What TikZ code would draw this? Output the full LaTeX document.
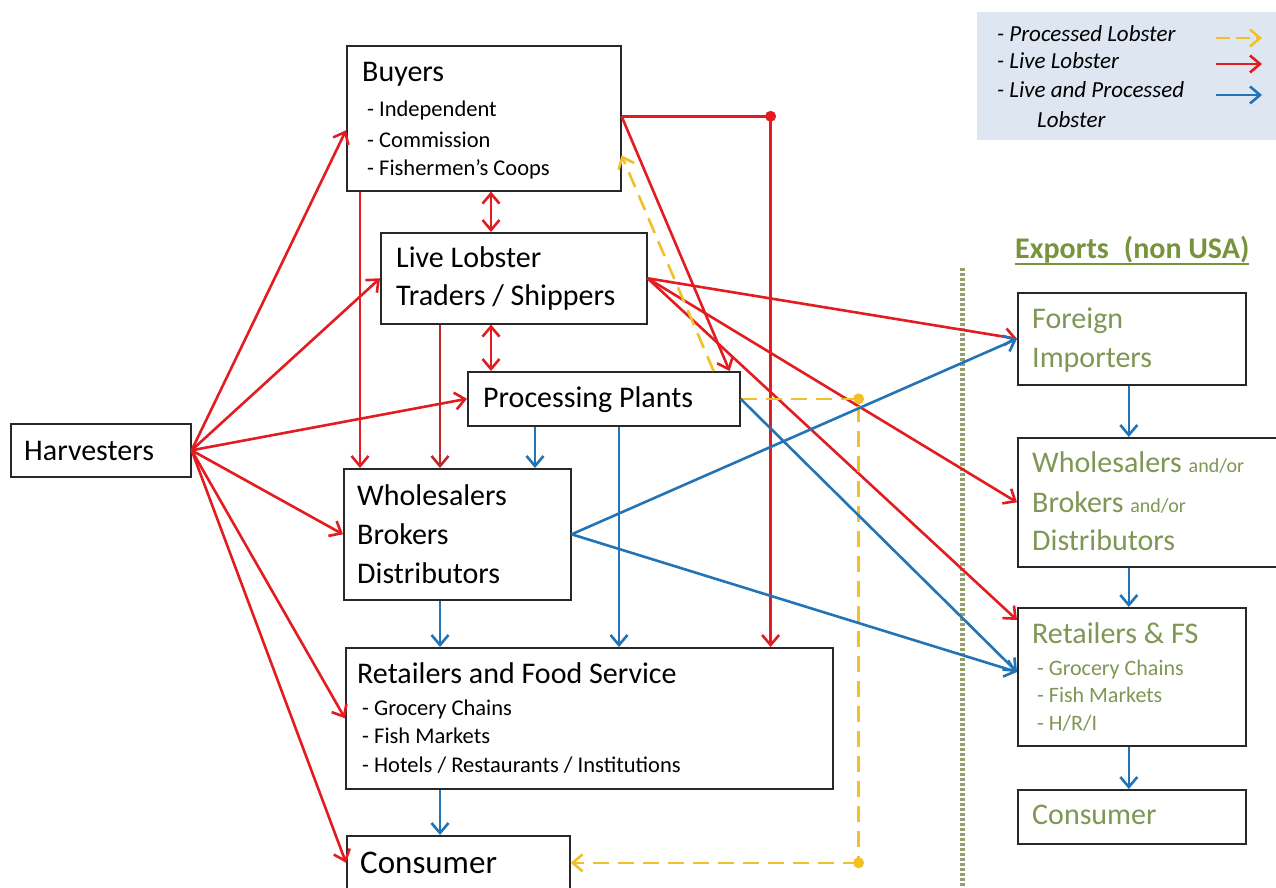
\documentclass[tikz,border=0pt]{standalone}
\usepackage{fontspec}
\setmainfont{Carlito}
\usetikzlibrary{arrows.meta}
\definecolor{lred}{RGB}{226,28,32}
\definecolor{dred}{RGB}{190,40,40}
\definecolor{lblue}{RGB}{34,116,182}
\definecolor{lyel}{RGB}{242,192,40}
\definecolor{olivet}{RGB}{119,147,60}
\definecolor{olivetxt}{RGB}{128,150,84}
\definecolor{legbg}{RGB}{221,230,241}
\definecolor{sepcol}{RGB}{150,158,110}
\definecolor{boxline}{RGB}{40,40,40}
\begin{document}
\begin{tikzpicture}[x=1pt,y=-1pt,
  box/.style={draw=boxline, line width=1.6pt, inner sep=0pt, anchor=north west, fill=white},
  tip/.tip={Straight Barb[length=10pt,width=17pt]},
  rl/.style={draw=lred, line width=2.6pt, -tip},
  rl2/.style={draw=lred, line width=2.6pt, tip-tip},
  rlplain/.style={draw=lred, line width=2.6pt},
  bl/.style={draw=lblue, line width=2.6pt, -tip},
  yl/.style={draw=lyel, line width=2.6pt, dash pattern=on 16pt off 9pt, -tip},
  ylplain/.style={draw=lyel, line width=2.6pt, dash pattern=on 16pt off 9pt},
  tbig/.style={anchor=base west, inner sep=0pt, font=\fontsize{30}{30}\selectfont},
  tsub/.style={anchor=base west, inner sep=0pt, font=\fontsize{22.5}{22.5}\selectfont},
  tleg/.style={anchor=base west, inner sep=0pt, font=\fontsize{23}{23}\selectfont\itshape},
  tex/.style={anchor=base west, inner sep=0pt, text=olivetxt, font=\fontsize{30}{30}\selectfont},
  texs/.style={anchor=base west, inner sep=0pt, text=olivetxt, font=\fontsize{22}{22}\selectfont},
]
\useasboundingbox (0,0) rectangle (1276,888);
\fill[white] (0,0) rectangle (1276,888);

% legend
\node[anchor=north west, fill=legbg, minimum width=299pt, minimum height=128pt, inner sep=0pt] (legend) at (977,12) {};
\node[tleg] (lg1) at (997,42) {- Processed Lobster};
\node[tleg] (lg2) at (997,69) {- Live Lobster};
\node[tleg] (lg3) at (997,98) {- Live and Processed};
\node[tleg] (lg4) at (1037,128) {Lobster};
\coordinate (la1) at (1216,38); \coordinate (la2) at (1262,38);
\coordinate (lb1) at (1216,64); \coordinate (lb2) at (1262,64);
\coordinate (lc1) at (1216,95); \coordinate (lc2) at (1262,95);
\draw[draw=lyel, line width=2.6pt, dash pattern=on 14pt off 6pt, -tip] (la1) -- (la2);
\draw[rl] (lb1) -- (lb2);
\draw[bl] (lc1) -- (lc2);

% separator
\coordinate (sepT) at (962,268); \coordinate (sepB) at (962,892);
\draw[sepcol, line width=5pt, dash pattern=on 2.5pt off 2.5pt] (sepT) -- (sepB);

% boxes
\node[box, minimum width=274pt, minimum height=145pt] (buyers) at (346,45) {};
\node[box, minimum width=266pt, minimum height=91pt] (traders) at (380,232) {};
\node[box, minimum width=272pt, minimum height=54pt] (proc) at (467,371) {};
\node[box, minimum width=180pt, minimum height=53pt] (harv) at (10,423) {};
\node[box, minimum width=227pt, minimum height=131pt] (whole) at (343,468) {};
\node[box, minimum width=487pt, minimum height=141pt] (retail) at (345,647) {};
\node[box, minimum width=223pt, minimum height=54pt] (cons) at (346,835) {};
\node[box, minimum width=228pt, minimum height=92pt] (foreign) at (1017,292) {};
\node[box, minimum width=272pt, minimum height=129pt] (wexp) at (1017,437) {};
\node[box, minimum width=228pt, minimum height=138pt] (rfs) at (1017,607) {};
\node[box, minimum width=228pt, minimum height=54pt] (consr) at (1017,789) {};

% texts
\node[tbig] (tbuy) at (362,82) {Buyers};
\node[tsub] (tb1) at (367,117) {- Independent};
\node[tsub] (tb2) at (367,147) {- Commission};
\node[tsub] (tb3) at (367,175) {- Fishermen’s Coops};
\node[tbig] (tt1) at (396,267) {Live Lobster};
\node[tbig] (tt2) at (396,305) {Traders / Shippers};
\node[tbig] (tp) at (483,407) {Processing Plants};
\node[tbig] (th) at (24,460) {Harvesters};
\node[tbig] (tw1) at (357,505) {Wholesalers};
\node[tbig] (tw2) at (357,544) {Brokers};
\node[tbig] (tw3) at (357,583) {Distributors};
\node[tbig] (tr) at (357,683) {Retailers and Food Service};
\node[tsub] (tr1) at (362,715) {- Grocery Chains};
\node[tsub] (tr2) at (362,743) {- Fish Markets};
\node[tsub] (tr3) at (362,772) {- Hotels / Restaurants / Institutions};
\node[anchor=base west, inner sep=0pt, font=\fontsize{33}{33}\selectfont] (tc) at (360,873) {Consumer};

\node[anchor=base west, inner sep=0pt, text=olivet, font=\fontsize{30}{30}\selectfont\bfseries] (expt) at (1015,258) {Exports\enspace(non USA)};
\draw[olivet, line width=2pt] ([yshift=-6pt]expt.base west) -- ([yshift=-6pt]expt.base east);
\node[tex] (tf1) at (1032,328) {Foreign};
\node[tex] (tf2) at (1032,367) {Importers};
\node[tex] (te1) at (1032,472) {Wholesalers {\fontsize{20}{20}\selectfont and/or}};
\node[tex] (te2) at (1032,512) {Brokers {\fontsize{20}{20}\selectfont and/or}};
\node[tex] (te3) at (1032,550) {Distributors};
\node[tex] (tfs) at (1032,643) {Retailers \& FS};
\node[texs] (tfs1) at (1037,675) {- Grocery Chains};
\node[texs] (tfs2) at (1037,702) {- Fish Markets};
\node[texs] (tfs3) at (1037,730) {- H/R/I};
\node[tex] (tcr) at (1032,824) {Consumer};

% red from harvesters
\draw[rl] (harv.east) -- ([yshift=-12pt]buyers.west);
\draw[rl] (harv.east) -- (traders.west);
\draw[rl] (harv.east) -- (proc.west);
\draw[rl] (harv.east) -- (whole.west);
\draw[rl] (harv.east) -- (retail.west);
\draw[rl] (harv.east) -- (cons.west);

% red verticals
\coordinate (bv) at ([xshift=14pt]buyers.south west);
\draw[rl] (bv) -- (bv |- whole.north);
\coordinate (tv) at ([xshift=60pt]traders.south west);
\draw[draw=dred, line width=2.6pt, -tip] (tv) -- (tv |- whole.north);
\coordinate (bt) at ([xshift=145pt]buyers.south west);
\draw[rl2] (bt) -- (bt |- traders.north);
\coordinate (tp2) at ([xshift=111pt]traders.south west);
\draw[rl2] (tp2) -- (tp2 |- proc.north);

% buyers right
\coordinate (bre) at ([yshift=2pt]buyers.east);
\coordinate (rdot) at ([xshift=149pt]bre);
\draw[rlplain] (bre) -- (rdot);
\draw[rl] (rdot) -- (rdot |- retail.north);
\fill[lred] (rdot) circle (5.5pt);
\coordinate (pt1) at ([xshift=-11pt]proc.north east);
\draw[rl] (bre) -- (pt1);

% traders to exports
\draw[rl] (traders.east) -- (foreign.west);
\draw[rl] (traders.east) -- (wexp.west);
\coordinate (rfsr) at ([yshift=-13pt]rfs.north west);
\draw[rl] (traders.east) -- (rfsr);

% yellow
\coordinate (ys) at ([xshift=-27pt]proc.north east);
\draw[yl] (ys) -- ([yshift=-37pt]buyers.east);
\coordinate (y1) at ([xshift=118pt]proc.east);
\coordinate (y2) at (y1 |- cons.east);
\draw[ylplain] (proc.east) -- (y1) -- (y2);
\draw[yl] (y2) -- (cons.east);
\fill[lyel] (y1) circle (5.5pt);
\fill[lyel] (y2) circle (5.5pt);

% blue
\coordinate (pb1) at ([xshift=68pt]proc.south west);
\draw[bl] (pb1) -- (pb1 |- whole.north);
\coordinate (pb2) at ([xshift=152pt]proc.south west);
\draw[bl] (pb2) -- (pb2 |- retail.north);
\coordinate (rfsb) at ([yshift=-65pt]rfs.north west);
\draw[bl] (proc.east) -- (rfsb);
\draw[bl] (whole.east) -- (foreign.west);
\draw[bl] (whole.east) -- (rfsb);
\coordinate (wb) at ([xshift=97pt]whole.south west);
\draw[bl] (wb) -- (wb |- retail.north);
\coordinate (rb) at ([xshift=95pt]retail.south west);
\draw[bl] (rb) -- (rb |- cons.north);
\coordinate (fb) at ([xshift=-3pt]foreign.south);
\draw[bl] (fb) -- (fb |- wexp.north);
\coordinate (wxb) at (fb |- wexp.south);
\draw[bl] (wxb) -- (wxb |- rfs.north);
\coordinate (rfb) at (fb |- rfs.south);
\draw[bl] (rfb) -- (rfb |- consr.north);
\end{tikzpicture}
\end{document}
